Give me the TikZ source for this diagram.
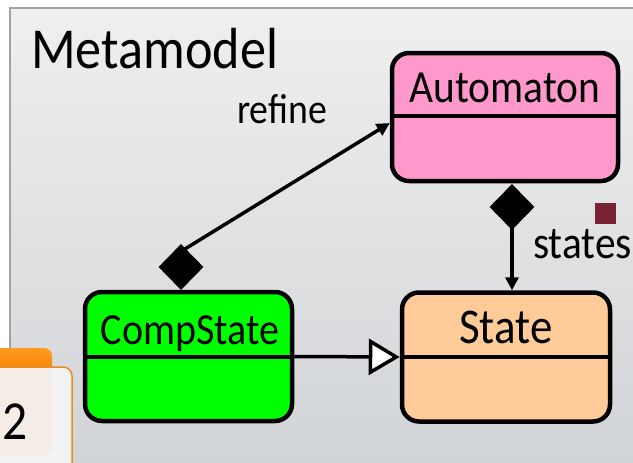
\documentclass[tikz,border=0pt]{standalone}
\usepackage{fontspec}
\setmainfont{Carlito}[FakeStretch=0.9]
\usetikzlibrary{arrows.meta,shapes.geometric,calc}

\definecolor{panelTop}{HTML}{EFEFF0}
\definecolor{panelBot}{HTML}{D0D3D6}
\definecolor{panelEdge}{HTML}{A3A3A3}
\definecolor{autoFill}{HTML}{FF99CC}
\definecolor{compFill}{HTML}{00FF00}
\definecolor{stateFill}{HTML}{FFCC99}
\definecolor{markRed}{HTML}{7A2335}
\definecolor{tabTop}{HTML}{FF9A1E}
\definecolor{tabBot}{HTML}{F07A00}
\definecolor{cardEdge}{HTML}{F08A20}
\definecolor{cardFill}{HTML}{F3F3F4}
\definecolor{cardInner}{HTML}{F6ECE6}

\newcommand{\fsz}[1]{\fontsize{#1}{#1}\selectfont}

\tikzset{
  classbox/.style={draw=black, line width=4.5pt, rounded corners=17pt,
    rectangle, inner sep=0pt},
  divider/.style={draw=black, line width=4.5pt},
  title/.style={anchor=base, inner sep=0pt},
  composite/.style={diamond, fill=black, draw=none, inner sep=0pt,
    minimum width=45pt, minimum height=46pt},
  assoc/.style={line width=3.5pt, -{Triangle[length=13pt,width=13pt]}},
  generalize/.style={line width=3.5pt,
    -{Triangle[open, fill=white, length=31pt, width=36pt]}},
  lbl/.style={anchor=base west, inner sep=0pt}
}

\begin{document}
\begin{tikzpicture}[x=1pt, y=-1pt]
  \useasboundingbox (0,0) rectangle (633,463);
  \clip (0,0) rectangle (633,463);
  \fill[white] (0,0) rectangle (633,463);

  % package panel
  \shade[top color=panelTop, bottom color=panelBot] (10,8) rectangle (660,480);
  \draw[panelEdge, line width=2pt] (10,480) -- (10,8) -- (660,8);

  \node[lbl, font=\fsz{58}] (mm) at (31,68) {Metamodel};

  % classes
  \node[classbox, fill=autoFill, minimum width=226pt, minimum height=128pt]
    (auto) at (505,117) {};
  \draw[divider] (auto.west |- 0,116) -- (auto.east |- 0,116);
  \node[title, font=\fsz{46}] (autoT) at (505,102) {Automaton};

  \node[classbox, fill=compFill, minimum width=207pt, minimum height=129pt]
    (comp) at (188.5,356.5) {};
  \draw[divider] (comp.west |- 0,357) -- (comp.east |- 0,357);
  \node[title, font=\fsz{44.5}] (compT) at (190,344) {CompState};

  \node[classbox, fill=stateFill, minimum width=208pt, minimum height=129pt]
    (state) at (506,357) {};
  \draw[divider] (state.west |- 0,357) -- (state.east |- 0,357);
  \node[title, font=\fsz{50}] (stateT) at (506,343) {State};

  % composition diamonds
  \node[composite] (dR) at (181,267) {};
  \node[composite] (dS) at (512,207) {};

  % connectors
  \draw[assoc] ($(dR.north)+(1,7)$) -- (auto.183);
  \node[lbl, font=\fsz{42}] (refine) at (237,123) {refine};

  \draw[assoc] ($(dS.south)+(0,-4)$) -- (dS.south |- state.north);
  \node[lbl, font=\fsz{46}] (states) at (533,258) {states};
  \fill[markRed] (595,203) rectangle (616,224);

  \draw[generalize] (comp.east) -- (state.west);

  % slide number tab
  \shade[top color=tabTop, bottom color=tabBot, rounded corners=8pt]
    (-10,348) rectangle (52,385);
  \draw[cardEdge, line width=1.5pt, fill=cardFill, rounded corners=9pt]
    (-10,367) rectangle (72,490);
  \fill[cardInner, rounded corners=7pt] (-10,368) rectangle (52,455);
  \node[anchor=base west, inner sep=0pt, font=\fsz{55}] (num) at (2,439) {2};
\end{tikzpicture}
\end{document}
